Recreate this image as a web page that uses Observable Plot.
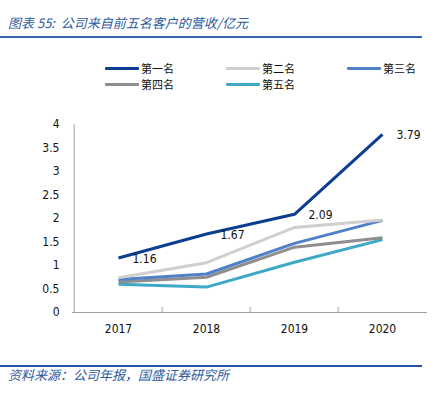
<!DOCTYPE html>
<html>
<head>
<meta charset="utf-8">
<script src="https://cdn.jsdelivr.net/npm/d3@7"></script>
<script src="https://cdn.jsdelivr.net/npm/@observablehq/plot@0.6"></script>
<style>
  html, body { margin: 0; padding: 0; background: #fff; }
  #wrap { position: relative; width: 447px; height: 396px; overflow: hidden; font-family: "Noto Sans CJK SC", sans-serif; }
  .title { position: absolute; left: 8px; top: 14px; font-size: 13px; font-style: italic; color: #2E5C9E; white-space: nowrap; line-height: 18px; }
  .rule-top { position: absolute; left: 0; top: 36px; width: 422px; height: 2px; background: #3366AA; }
  .rule-bot { position: absolute; left: 0; top: 365px; width: 422px; height: 2px; background: #2255A4; }
  .source { position: absolute; left: 8px; top: 366px; font-size: 13px; font-style: italic; color: #2E5C9E; white-space: nowrap; line-height: 18px; }
  .legend-item { position: absolute; height: 16px; display: flex; align-items: center; font-size: 11px; color: #111; white-space: nowrap; }
  .legend-item .sw { width: 34px; height: 3px; margin-right: 2px; border-radius: 1px; }
  #chart { position: absolute; left: 0; top: 100px; }
</style>
</head>
<body>
<div id="wrap">
  <div class="title">图表 55:&nbsp; 公司来自前五名客户的营收/亿元</div>
  <div class="rule-top"></div>
  <div id="legend"></div>
  <div id="chart"></div>
  <div class="rule-bot"></div>
  <div class="source">资料来源：公司年报，国盛证券研究所</div>
</div>
<script>
// ---- data ----
const years = ["2017", "2018", "2019", "2020"];
const seriesNames = ["第一名", "第二名", "第三名", "第四名", "第五名"];
const seriesColors = ["#0B3D91", "#CFCFCF", "#4F80C8", "#8E8E8E", "#3FA8C6"];
const rank1 = [1.16, 1.67, 2.09, 3.79];
const rank2 = [0.74, 1.06, 1.81, 1.97];
const rank3 = [0.70, 0.82, 1.47, 1.96];
const rank4 = [0.65, 0.75, 1.39, 1.59];
const rank5 = [0.60, 0.54, 1.07, 1.55];
const yTicks = [0, 0.5, 1, 1.5, 2, 2.5, 3, 3.5, 4];

const seriesValues = [rank1, rank2, rank3, rank4, rank5];
const rows = [];
seriesNames.forEach((name, i) => {
  seriesValues[i].forEach((v, j) => rows.push({series: name, year: years[j], value: v}));
});
const labelRows = rows.filter(d => d.series === seriesNames[0]);

// ---- legend ----
const legend = document.getElementById("legend");
seriesNames.forEach((name, i) => {
  const col = i % 3, row = Math.floor(i / 3);
  const item = document.createElement("div");
  item.className = "legend-item";
  item.style.left = (105 + col * 121) + "px";
  item.style.top = (60 + row * 16) + "px";
  const sw = document.createElement("span");
  sw.className = "sw";
  sw.style.background = seriesColors[i];
  const tx = document.createElement("span");
  tx.textContent = name;
  item.appendChild(sw);
  item.appendChild(tx);
  legend.appendChild(item);
});

// ---- chart ----
const W = 447, H = 250, mL = 72, mR = 20, mT = 24, mB = 38;
const halfBand = (W - mL - mR) / years.length / 2;
const font = "'DejaVu Sans Condensed', 'DejaVu Sans', sans-serif";

const chart = Plot.plot({
  width: W,
  height: H,
  marginLeft: mL,
  marginRight: mR,
  marginTop: mT,
  marginBottom: mB,
  style: {fontFamily: font, fontSize: "12px", color: "#111", background: "transparent"},
  x: {type: "band", domain: years, padding: 0, label: null},
  y: {domain: [0, 4], label: null},
  color: {domain: seriesNames, range: seriesColors},
  marks: [
    Plot.axisY({ticks: yTicks, tickSize: 0, tickPadding: 13, tickFormat: d => String(d), fontSize: 12}),
    Plot.axisX({tickSize: 0, tickPadding: 12, fontSize: 12}),
    Plot.axisX(years.slice(1), {tickSize: -5, text: null, dx: -halfBand, stroke: "#A0A0A0"}),
    Plot.ruleX([years[0]], {dx: -halfBand, y1: 0, y2: 4, stroke: "#A0A0A0"}),
    Plot.ruleY([0], {stroke: "#A0A0A0"}),
    ...[...seriesNames].reverse().map(name =>
      Plot.line(rows.filter(d => d.series === name), {
        x: "year", y: "value", stroke: seriesColors[seriesNames.indexOf(name)],
        strokeWidth: 3, strokeLinejoin: "round", strokeLinecap: "butt"
      })
    ),
    Plot.text(labelRows, {
      x: "year", y: "value", text: d => d.value.toFixed(2),
      dx: 14, dy: 1, textAnchor: "start", fontSize: 12, fill: "#111"
    })
  ]
});
document.getElementById("chart").appendChild(chart);
</script>
</body>
</html>
